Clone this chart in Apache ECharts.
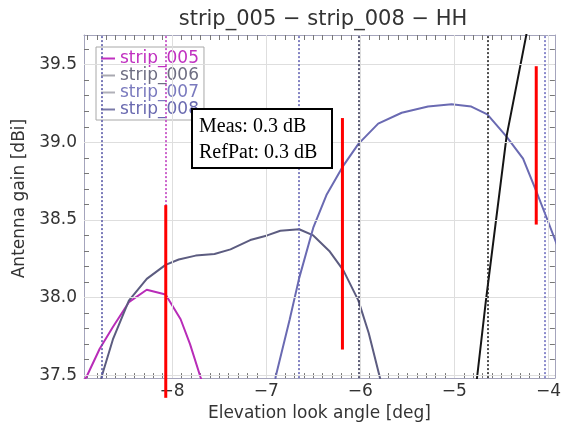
<!DOCTYPE html>
<html>
<head>
<meta charset="utf-8">
<script src="https://cdn.jsdelivr.net/npm/echarts@6/dist/echarts.min.js"></script>
<style>
  html, body { margin: 0; padding: 0; background: #fff; }
  #chart { width: 564px; height: 427px; }
</style>
</head>
<body>
<div id="chart"></div>
<script>
// elevation angle [deg] / gain [dBi] pairs
const strip005 = [[-9.0, 37.40], [-8.91, 37.49], [-8.77, 37.67], [-8.63, 37.81], [-8.46, 37.97],
  [-8.27, 38.05], [-8.07, 38.02], [-7.91, 37.86], [-7.81, 37.70], [-7.70, 37.49], [-7.65, 37.40]];
const strip006 = [[-8.80, 37.30], [-8.75, 37.49], [-8.63, 37.73], [-8.46, 37.98], [-8.27, 38.12],
  [-8.07, 38.21], [-7.93, 38.245], [-7.75, 38.27], [-7.55, 38.28], [-7.38, 38.31], [-7.17, 38.37],
  [-6.99, 38.40], [-6.85, 38.43], [-6.65, 38.44], [-6.50, 38.40], [-6.33, 38.30], [-6.18, 38.175],
  [-6.02, 37.98], [-5.91, 37.77], [-5.79, 37.48], [-5.75, 37.40]];
const strip007 = [[-6.93, 37.30], [-6.90, 37.49], [-6.75, 37.86], [-6.65, 38.125], [-6.50, 38.45],
  [-6.36, 38.66], [-6.18, 38.85], [-6.02, 38.99], [-5.81, 39.12], [-5.56, 39.19], [-5.28, 39.23],
  [-5.03, 39.245], [-4.82, 39.23], [-4.65, 39.18], [-4.45, 39.04], [-4.27, 38.895], [-4.13, 38.685],
  [-4.03, 38.53], [-3.91, 38.34], [-3.85, 38.22]];
const strip008 = [[-4.79, 37.30], [-4.76, 37.48], [-4.665, 37.98], [-4.445, 39.04], [-4.236, 39.69], [-4.20, 39.82]];

const seriesNames = ['strip_005', 'strip_006', 'strip_007', 'strip_008'];
const seriesColors = ['#b82cb8', '#5c5c80', '#6a6ab2', '#151515'];
const legendTextColors = ['#c030c0', '#6e6e82', '#7a7abe', '#6a6ab0'];
const legendIconColors = ['#c030c0', '#a8a8b0', '#b0b0b8', '#7a7aa8'];

// red measurement bars: [x, yLow, yHigh]
const redBars = [[-8.068, 37.354, 38.595], [-6.19, 37.665, 39.156], [-4.13, 38.47, 39.49]];

// dotted strip boundaries
const boundaryX = [-8.75, -8.07, -6.65, -6.02, -4.65, -4.04];
const boundaryColors = ['#5a5aa8', '#c040c0', '#6464b4', '#353555', '#222222', '#7070c0'];

const xTickLabels = [-8, -7, -6, -5, -4];
const yTickLabels = [37.5, 38.0, 38.5, 39.0, 39.5];

const xMin = -8.937, xMax = -3.932;
const yMin = 37.481, yMax = 39.691;

// minor ticks every 0.1
const xMinor = [];
for (let v = -89; v <= -40; v++) xMinor.push(v / 10);
const yMinor = [];
for (let v = 375; v <= 396; v++) yMinor.push(v / 10);

const axisFont = { fontFamily: 'DejaVu Sans', fontSize: 17, color: '#333' };

function xAxisCfg(pos, labels) {
  return {
    type: 'value', position: pos, min: xMin, max: xMax,
    axisLine: { show: true, onZero: false, lineStyle: { color: '#a4a4bc', width: 1 } },
    axisTick: { show: true, inside: true, length: 5, customValues: xMinor, lineStyle: { color: '#777' } },
    axisLabel: labels ? {
      show: true, customValues: xTickLabels, margin: 5, ...axisFont,
      formatter: v => (v < 0 ? '\u2212' : '') + Math.abs(v)
    } : { show: false },
    splitLine: { show: false }
  };
}
function yAxisCfg(pos, labels) {
  return {
    type: 'value', position: pos, min: yMin, max: yMax,
    axisLine: { show: true, onZero: false, lineStyle: { color: '#a4a4bc', width: 1 } },
    axisTick: { show: true, inside: true, length: 5, customValues: yMinor, lineStyle: { color: '#777' } },
    axisLabel: labels ? {
      show: true, customValues: yTickLabels, margin: 7, ...axisFont,
      formatter: v => v.toFixed(1)
    } : { show: false },
    splitLine: { show: false }
  };
}

const chart = echarts.init(document.getElementById('chart'));

const gridLines = xTickLabels.map(v => ({ xAxis: v }))
  .concat(yTickLabels.map(v => ({ yAxis: v })));
const dotted = boundaryX.map((v, i) => ({
  xAxis: v, lineStyle: { color: boundaryColors[i], type: [2, 2], width: 1.6 }
}));

const curves = [strip005, strip006, strip007, strip008].map((d, i) => ({
  name: seriesNames[i], type: 'line', data: d, symbol: 'none', z: 3,
  lineStyle: { color: seriesColors[i], width: 2 }, itemStyle: { color: seriesColors[i] },
  animation: false
}));

const reds = redBars.map((b, i) => ({
  name: 'red' + i, type: 'line', data: [[b[0], b[1]], [b[0], b[2]]], symbol: 'none',
  clip: false, z: 5, lineStyle: { color: '#ff0000', width: 3 }, animation: false
}));

chart.setOption({
  animation: false,
  backgroundColor: '#fff',
  grid: { left: 84, right: 2, top: 35, bottom: 45, containLabel: false },
  xAxis: [
    { ...xAxisCfg('bottom', true), name: 'Elevation look angle [deg]', nameLocation: 'middle', nameGap: 26,
      nameTextStyle: { fontFamily: 'DejaVu Sans', fontSize: 17, color: '#333' } },
    xAxisCfg('top', false)
  ],
  yAxis: [
    { ...yAxisCfg('left', true), name: 'Antenna gain [dBi]', nameLocation: 'middle', nameGap: 54,
      nameTextStyle: { fontFamily: 'DejaVu Sans', fontSize: 17, color: '#333', padding: [0, 0, 0, 16] } },
    yAxisCfg('right', false)
  ],
  legend: {
    left: 96, top: 47, orient: 'vertical', itemGap: 0, itemWidth: 14, itemHeight: 2, icon: 'rect',
    padding: [3, 5, 2, 5], borderColor: '#a8a8a8', borderWidth: 1, backgroundColor: '#fff',
    textStyle: { fontFamily: 'DejaVu Sans', fontSize: 17, lineHeight: 16.5 },
    data: seriesNames.map((n, i) => ({
      name: n, textStyle: { color: legendTextColors[i] },
      itemStyle: { color: legendIconColors[i] }
    })),
    z: 4
  },
  graphic: [
    { type: 'text', x: 323, y: 20, z: 100,
      style: { text: 'strip_005 \u2212 strip_008 \u2212 HH', font: '21px "DejaVu Sans"', fill: '#333',
        textAlign: 'center', textVerticalAlign: 'middle' } },
    { type: 'rect', z: 100, shape: { x: 192, y: 109, width: 140, height: 59 },
      style: { fill: '#fff', stroke: '#000', lineWidth: 2 } },
    { type: 'text', z: 101, x: 199, y: 127,
      style: { text: 'Meas: 0.3 dB', font: '20px "Liberation Serif"', fill: '#000', textVerticalAlign: 'middle' } },
    { type: 'text', z: 101, x: 199, y: 153,
      style: { text: 'RefPat: 0.3 dB', font: '20px "Liberation Serif"', fill: '#000', textVerticalAlign: 'middle' } }
  ],
  series: [
    { name: 'guides', type: 'line', data: [], symbol: 'none', z: 1, silent: true,
      markLine: { silent: true, symbol: ['none', 'none'], label: { show: false }, animation: false,
        lineStyle: { color: '#dedede', width: 1, type: 'solid' }, data: gridLines } },
    { name: 'bounds', type: 'line', data: [], symbol: 'none', z: 2, silent: true,
      markLine: { silent: true, symbol: ['none', 'none'], label: { show: false }, animation: false,
        data: dotted } }
  ].concat(curves, reds)
});
</script>
</body>
</html>
